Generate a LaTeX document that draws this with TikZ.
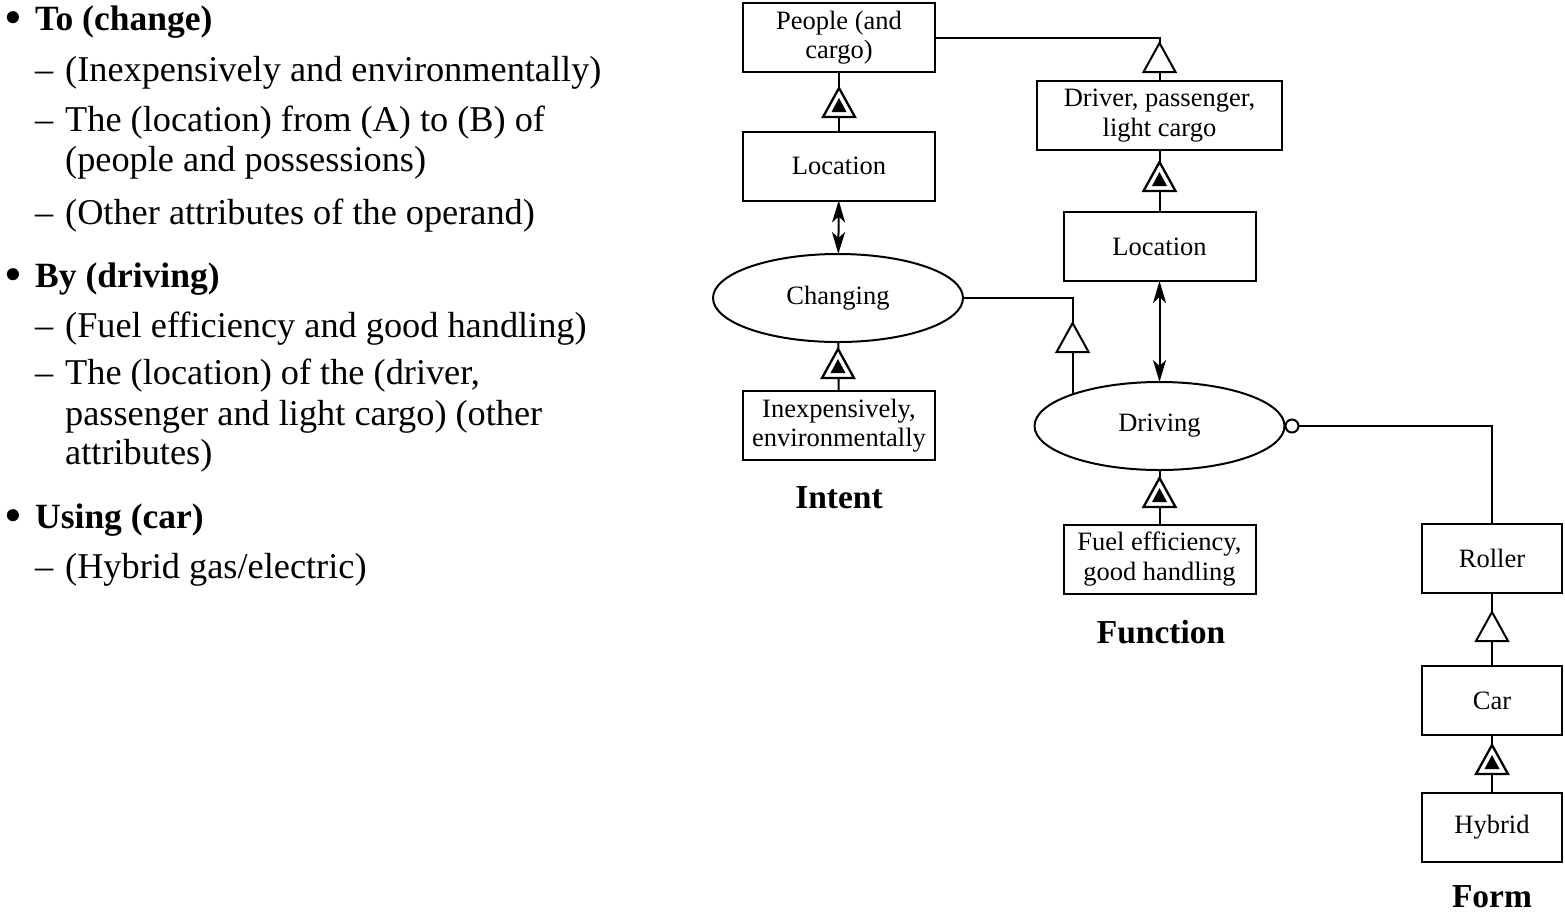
\documentclass[tikz,border=0pt]{standalone}
\usepackage{fontspec}
\setmainfont{Liberation Serif}
\usetikzlibrary{shapes.geometric,arrows.meta,calc}
\newcommand\dgfont{\fontsize{26.5}{29.5}\selectfont}
\newcommand\lblfont{\fontsize{33.5}{36}\selectfont\bfseries}
\newcommand\lsfont{\fontsize{36.3}{40}\selectfont}
\newcommand\hdfont{\fontsize{35.5}{40}\selectfont\bfseries}
\tikzset{
  box/.style={draw,line width=2pt,inner sep=0pt,outer sep=0pt,align=center,font=\dgfont,minimum height=69pt},
  proc/.style={draw,ellipse,line width=2pt,inner sep=0pt,outer sep=0pt,font=\dgfont,minimum width=250pt,minimum height=88pt},
  lbl/.style={font=\lblfont,inner sep=0pt},
  txt/.style={font=\lsfont,anchor=base west,inner sep=0pt},
  hd/.style={txt,font=\hdfont},
  link/.style={line width=2pt},
  both/.style={link,<->,>={Stealth[length=22pt,width=13pt,inset=6pt]}},
  genl/.pic={\draw[line width=2pt,fill=white] (0,0)--(-16,29)--(16,29)--cycle;},
  exhib/.pic={\draw[line width=2.3pt,fill=white] (0,0)--(-16,29)--(16,29)--cycle;
    \fill (0,10)--(-7.5,24)--(7.5,24)--cycle;}
}
\begin{document}
\begin{tikzpicture}[x=1pt,y=-1pt]
\useasboundingbox (0,0) rectangle (1565,914);
\foreach \yy/\tx [count=\i] in {30/To (change),287/By (driving),528/Using (car)}{
  \node[txt] (dot\i) at (4,\yy) {\raisebox{-4pt}{\scalebox{1.4}{\textbullet}}};
  \node[hd] (head\i) at (35,\yy) {\tx};}
\foreach \yy [count=\i] in {81,131,224,337,384,578}\node[txt] (dash\i) at (35,\yy) {--};
\foreach \yy/\tx [count=\i] in {81/{(Inexpensively and environmentally)},131/{The (location) from (A) to (B) of},
  171/{(people and possessions)},224/{(Other attributes of the operand)},337/{(Fuel efficiency and good handling)},
  384/{The (location) of the (driver,},425/{passenger and light cargo) (other},464/{attributes)},578/{(Hybrid gas/electric)}}
  \node[txt] (ln\i) at (65,\yy) {\tx};
% intent
\node[box,minimum width=192pt] (ppl) at (839,37.5) {People (and\\cargo)};
\node[box,minimum width=192pt] (loc1) at (839,166) {Location};
\node[proc] (chg) at (838,298) {Changing};
\node[box,minimum width=192pt] (inx) at (839,425.5) {Inexpensively,\\environmentally};
\node[lbl] (intent) at (839,498) {Intent};
% function
\node[box,minimum width=245pt] (drvr) at (1159.5,115.5) {Driver, passenger,\\light cargo};
\node[box,minimum width=192pt] (loc2) at (1159.5,246.5) {Location};
\node[proc] (drv) at (1159.5,426) {Driving};
\node[box,minimum width=192pt] (fuel) at (1159.5,559) {Fuel efficiency,\\good handling};
\node[lbl] (func) at (1161,632) {Function};
% form
\node[box,minimum width=140pt] (rol) at (1492,558.5) {Roller};
\node[box,minimum width=140pt] (car) at (1492,700.5) {Car};
\node[box,minimum width=140pt] (hyb) at (1492,827) {Hybrid};
\node[lbl] (form) at (1492,897) {Form};
% links
\draw[link] (loc1) -- (ppl);
\pic at ($(ppl.south)+(0,16)$) {exhib};
\draw[both] (loc1) -- (chg);
\draw[link] (inx) -- (chg);
\pic at ($(chg.south)+(0,7)$) {exhib};
\draw[link] (drvr.north) |- (ppl.east);
\pic at ($(drvr.north)+(0,-38)$) {genl};
\draw[link] (loc2) -- (drvr);
\pic at ($(drvr.south)+(0,12)$) {exhib};
\draw[both] (loc2) -- (drv);
\draw[link] (drv.160) |- (chg.east);
\pic at ($(chg.east -| drv.160)+(0,25)$) {genl};
\draw[link] (fuel) -- (drv);
\pic at ($(drv.south)+(0,8)$) {exhib};
\draw[link,-{Circle[open,length=15pt,width=15pt]}] (rol.north) |- (drv.east);
\draw[link] (car) -- (rol);
\pic at ($(rol.south)+(0,19)$) {genl};
\draw[link] (hyb) -- (car);
\pic at ($(car.south)+(0,10)$) {exhib};
\end{tikzpicture}
\end{document}
